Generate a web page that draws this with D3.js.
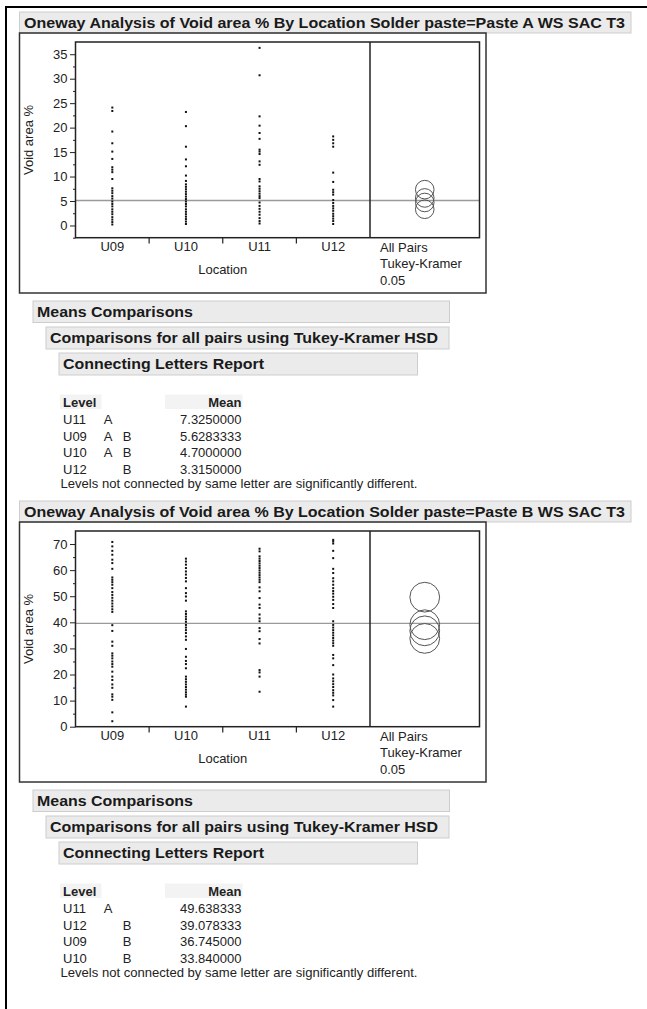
<!DOCTYPE html>
<html lang="en">
<head>
<meta charset="UTF-8">
<title>Oneway Analysis of Void area % By Location</title>
<script src="https://cdnjs.cloudflare.com/ajax/libs/d3/7.8.5/d3.min.js"></script>
<style>
    body { margin: 0; background: #fff; overflow: hidden; }
    svg { display: block; font-family: "Liberation Sans", Arial, sans-serif; }
    .bar { fill: #ebebeb; stroke: #cdcdcd; stroke-width: 1; }
    .hdr { font-weight: bold; font-size: 15px; fill: #1a1a1a; }
    .lbl { font-size: 13px; fill: #222; }
    .tick text { font-size: 13px; fill: #222; font-family: "Liberation Sans", Arial, sans-serif; }
    .tick line { stroke: #222; }
</style>
</head>
<body>
<svg id="report" width="647" height="1009"></svg>
<script>
// categories
const locations = ["U09", "U10", "U11", "U12"];

// Paste A WS SAC T3 : void area % per location
const pasteA_U09 = [24.1, 23.4, 19.2, 16.8, 15.1, 13.6, 11.9, 11.4, 10.9, 9.5, 7.6, 7.1, 6.6, 6.0, 5.5, 4.9, 4.4, 3.9, 3.3, 2.8, 2.3, 1.7, 1.2, 0.7, 0.2];
const pasteA_U10 = [23.2, 20.3, 16.1, 13.5, 12.1, 10.2, 9.1, 8.4, 7.9, 7.4, 6.9, 6.4, 5.9, 5.4, 4.9, 4.4, 3.9, 3.3, 2.8, 2.3, 1.8, 1.3, 0.8, 0.3];
const pasteA_U11 = [36.3, 30.7, 22.3, 20.4, 18.9, 17.7, 15.5, 15.1, 14.6, 13.1, 12.4, 9.5, 9.0, 8.0, 7.5, 7.0, 6.5, 6.0, 5.6, 4.7, 4.0, 3.4, 2.8, 2.2, 1.5, 0.9, 0.4];
const pasteA_U12 = [18.2, 17.5, 16.8, 16.1, 10.8, 8.9, 7.3, 6.8, 6.3, 5.2, 4.6, 4.0, 3.5, 3.0, 2.4, 1.9, 1.4, 0.9, 0.3];

// Paste B WS SAC T3
const pasteB_U09 = [70.8, 69.1, 67.4, 65.9, 64.0, 62.7, 60.5, 57.2, 56.3, 55.4, 54.4, 53.1, 51.6, 50.5, 49.4, 48.3, 47.2, 46.1, 45.0, 44.0, 38.9, 36.7, 32.6, 31.0, 28.1, 27.2, 26.2, 25.0, 24.0, 23.0, 21.1, 19.2, 17.9, 16.2, 14.9, 12.4, 11.5, 10.3, 5.5, 2.1];
const pasteB_U10 = [64.4, 63.3, 62.1, 60.8, 59.5, 58.3, 57.0, 55.7, 53.1, 51.2, 49.9, 48.3, 44.2, 43.2, 42.2, 41.2, 40.2, 39.0, 38.0, 37.0, 35.9, 34.6, 33.3, 29.8, 26.8, 25.2, 24.0, 22.4, 19.2, 18.2, 17.2, 16.2, 15.2, 14.2, 13.2, 12.3, 11.5, 7.7];
const pasteB_U11 = [68.2, 67.2, 65.3, 64.4, 63.5, 62.6, 61.7, 60.8, 59.9, 59.0, 58.1, 57.2, 56.3, 55.4, 53.4, 51.9, 49.3, 46.8, 45.5, 43.0, 41.5, 40.4, 37.8, 36.6, 33.6, 31.9, 21.7, 20.8, 19.2, 13.4];
const pasteB_U12 = [71.6, 71.0, 70.2, 67.4, 64.6, 60.5, 58.9, 56.9, 55.7, 54.4, 53.1, 52.0, 51.0, 49.8, 48.6, 47.0, 45.5, 40.4, 39.0, 38.0, 37.0, 36.0, 35.0, 34.0, 33.0, 32.0, 31.0, 27.5, 26.2, 23.6, 20.0, 18.5, 17.4, 16.3, 15.2, 14.0, 13.0, 12.0, 10.2, 7.7];

// axis ticks
const yTicksA = [0, 5, 10, 15, 20, 25, 30, 35];
const yMinorA = [-2.5, 2.5, 7.5, 12.5, 17.5, 22.5, 27.5, 32.5];
const yTicksB = [0, 10, 20, 30, 40, 50, 60, 70];
const yMinorB = [5, 15, 25, 35, 45, 55, 65];

// connecting letters reports
const levelsA = ["U11", "U09", "U10", "U12"];
const lettersA = ["A", "AB", "AB", "B"];
const meansA = [7.325, 5.6283333, 4.7, 3.315];
const levelsB = ["U11", "U12", "U09", "U10"];
const lettersB = ["A", "B", "B", "B"];
const meansB = [49.638333, 39.078333, 36.745, 33.84];

// grand mean reference lines and comparison circle radius (data units)
const grandMeanA = 5.1, grandMeanB = 39.6;
const circleRadiusA = 1.9, circleRadiusB = 5.7;

const svg = d3.select("#report");

// outer report border
svg.append("line").attr("x1", 5).attr("x2", 647).attr("y1", 7).attr("y2", 7)
    .attr("stroke", "#000").attr("stroke-width", 2);
svg.append("line").attr("x1", 6).attr("x2", 6).attr("y1", 6).attr("y2", 1009)
    .attr("stroke", "#000").attr("stroke-width", 2);

function bar(g, x, y, w, h, label, tx, tw) {
    g.append("rect").attr("class", "bar").attr("x", x).attr("y", y).attr("width", w).attr("height", h);
    g.append("text").attr("class", "hdr").attr("x", tx).attr("y", y + h / 2 + 5.4)
        .attr("textLength", tw).attr("lengthAdjust", "spacingAndGlyphs").text(label);
}

function drawSection(top, s) {
    const g = svg.append("g").attr("transform", `translate(0,${top})`);

    bar(g, 19.5, 12, 611.5, 21, `Oneway Analysis of Void area % By Location Solder paste=${s.paste}`, 24, 601);

    // outer frame of the plot report
    g.append("rect").attr("x", 19.5).attr("y", 33).attr("width", 466.5).attr("height", 260)
        .attr("fill", "none").attr("stroke", "#333").attr("stroke-width", 1.5);

    const y = d3.scaleLinear().domain(s.yDomain).range([237.7, 42]);
    const x = d3.scaleBand().domain(locations).range([75.5, 370]);
    const cmpX = (370 + 479.5) / 2;

    // y axis: major + minor ticks
    g.append("g").attr("transform", "translate(75.5,0)")
        .call(d3.axisLeft(y).tickValues(s.ticks).tickSize(5.5).tickPadding(2.5).tickFormat(d3.format("d")))
        .call(a => a.select(".domain").remove());
    g.append("g").attr("transform", "translate(75.5,0)")
        .call(d3.axisLeft(y).tickValues(s.minor).tickSize(2.5).tickFormat(""))
        .call(a => a.select(".domain").remove());

    // x axis labels and band separators
    g.append("g").attr("transform", "translate(0,237.7)")
        .call(d3.axisBottom(x).tickSize(0).tickPadding(4.5))
        .call(a => a.select(".domain").remove());
    g.selectAll(".sep").data(locations.slice(1)).join("line")
        .attr("x1", d => x(d)).attr("x2", d => x(d))
        .attr("y1", 237.7).attr("y2", 243.5)
        .attr("stroke", "#222").attr("stroke-width", 1.2);

    // grand mean line
    g.append("line").attr("x1", 75.5).attr("x2", 479.5)
        .attr("y1", y(s.grandMean)).attr("y2", y(s.grandMean))
        .attr("stroke", "#9a9a9a").attr("stroke-width", 1.3);

    // points
    locations.forEach((loc, i) => {
        g.append("g").selectAll("rect").data(s.values[i]).join("rect")
            .attr("x", x(loc) + x.bandwidth() / 2 - 1)
            .attr("y", d => y(d) - 1)
            .attr("width", 2).attr("height", 2)
            .attr("fill", "#111");
    });

    // comparison circles
    const rPx = y(0) - y(s.radius);
    g.selectAll(".cc").data(s.means).join("circle")
        .attr("cx", cmpX).attr("cy", d => y(d)).attr("r", rPx)
        .attr("fill", "none").attr("stroke", "#555").attr("stroke-width", 1);

    // plot frame + divider
    g.append("rect").attr("x", 75.5).attr("y", 42).attr("width", 404).attr("height", 195.7)
        .attr("fill", "none").attr("stroke", "#222").attr("stroke-width", 1.5);
    g.append("line").attr("x1", 370).attr("x2", 370).attr("y1", 42).attr("y2", 237.7)
        .attr("stroke", "#222").attr("stroke-width", 1.5);

    // axis titles
    g.append("text").attr("class", "lbl").attr("text-anchor", "middle")
        .attr("transform", "translate(33,140) rotate(-90)").text("Void area %");
    g.append("text").attr("class", "lbl").attr("text-anchor", "middle")
        .attr("x", (75.5 + 370) / 2).attr("y", 273.5).text("Location");
    ["All Pairs", "Tukey-Kramer", "0.05"].forEach((t, i) => {
        g.append("text").attr("class", "lbl").attr("x", 380).attr("y", 251.5 + i * 16.5).text(t);
    });

    // means comparisons
    bar(g, 33, 301, 416.5, 21.5, "Means Comparisons", 37, 156);
    bar(g, 46, 327, 403, 22, "Comparisons for all pairs using Tukey-Kramer HSD", 50, 388);
    bar(g, 59, 353, 358.5, 22, "Connecting Letters Report", 63, 201);

    // connecting letters table
    g.append("rect").attr("x", 60).attr("y", 394.5).attr("width", 41.5).attr("height", 14.5).attr("fill", "#f3f3f3");
    g.append("rect").attr("x", 165).attr("y", 394.5).attr("width", 77.5).attr("height", 14.5).attr("fill", "#f3f3f3");
    g.append("text").attr("class", "lbl").attr("font-weight", "bold").attr("x", 63).attr("y", 407).text("Level");
    g.append("text").attr("class", "lbl").attr("font-weight", "bold").attr("text-anchor", "end")
        .attr("x", 241.5).attr("y", 407).text("Mean");

    const letterX = { A: 108, B: 127 };
    s.levels.forEach((lv, i) => {
        const by = 424 + i * 16.6;
        g.append("text").attr("class", "lbl").attr("x", 63).attr("y", by).text(lv);
        s.letters[i].split("").forEach(c => {
            g.append("text").attr("class", "lbl").attr("text-anchor", "middle")
                .attr("x", letterX[c]).attr("y", by).text(c);
        });
        g.append("text").attr("class", "lbl").attr("text-anchor", "end")
            .attr("x", 241.5).attr("y", by).text(s.means[i].toPrecision(8));
    });
    g.append("text").attr("class", "lbl").attr("font-size", "12.5px").attr("x", 60.5).attr("y", 488)
        .attr("textLength", 357).attr("lengthAdjust", "spacingAndGlyphs")
        .text("Levels not connected by same letter are significantly different.");
}

drawSection(0, {
    paste: "Paste A WS SAC T3",
    values: [pasteA_U09, pasteA_U10, pasteA_U11, pasteA_U12],
    yDomain: [-2.5, 37.5], ticks: yTicksA, minor: yMinorA,
    grandMean: grandMeanA, radius: circleRadiusA,
    levels: levelsA, letters: lettersA, means: meansA
});
drawSection(489, {
    paste: "Paste B WS SAC T3",
    values: [pasteB_U09, pasteB_U10, pasteB_U11, pasteB_U12],
    yDomain: [0, 75], ticks: yTicksB, minor: yMinorB,
    grandMean: grandMeanB, radius: circleRadiusB,
    levels: levelsB, letters: lettersB, means: meansB
});
</script>
</body>
</html>
